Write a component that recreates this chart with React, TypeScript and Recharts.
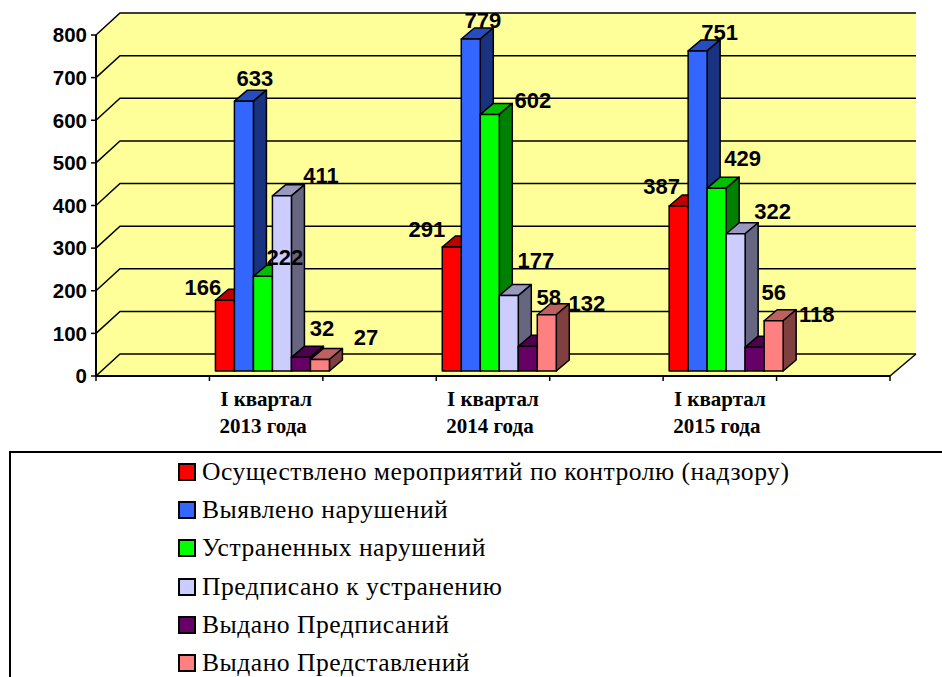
import { Bar, BarChart, CartesianGrid, LabelList, Legend, XAxis, YAxis } from 'recharts'

const categories = ['', 'I квартал\n2013 года', '', 'I квартал\n2014 года', '', 'I квартал\n2015 года', '']
const yTicks = [0, 100, 200, 300, 400, 500, 600, 700, 800]

const inspections = [null, 166, null, 291, null, 387, null]
const violationsFound = [null, 633, null, 779, null, 751, null]
const violationsFixed = [null, 222, null, 602, null, 429, null]
const toBeFixed = [null, 411, null, 177, null, 322, null]
const ordersIssued = [null, 32, null, 58, null, 56, null]
const submissionsIssued = [null, 27, null, 132, null, 118, null]

const seriesList = [
  { key: 'inspections', name: 'Осуществлено мероприятий по контролю (надзору)', values: inspections, fill: '#FF0000' },
  { key: 'violationsFound', name: 'Выявлено нарушений', values: violationsFound, fill: '#3366FF' },
  { key: 'violationsFixed', name: 'Устраненных нарушений', values: violationsFixed, fill: '#00FF00' },
  { key: 'toBeFixed', name: 'Предписано к устранению', values: toBeFixed, fill: '#CCCCFF' },
  { key: 'ordersIssued', name: 'Выдано Предписаний', values: ordersIssued, fill: '#660066' },
  { key: 'submissionsIssued', name: 'Выдано Представлений', values: submissionsIssued, fill: '#FF8080' },
]

const chartData = categories.map((category, i) => {
  const row: Record<string, string | number | null> = { category }
  seriesList.forEach((s) => {
    row[s.key] = s.values[i]
  })
  return row
})

// where excel left each data label, relative to the top of its bar (one pair per quarter)
const labelNudges: Record<string, [number, number][]> = {
  inspections: [[-23, -13], [-26, -17], [-18, -20]],
  violationsFound: [[10, -23], [11, -18], [21, -18]],
  violationsFixed: [[21, -19], [42, -14], [25, -30]],
  toBeFixed: [[38, -20], [26, -35], [36, -22]],
  ordersIssued: [[20, -29], [20, -49], [18, -55]],
  submissionsIssued: [[45, -22], [39, -11], [42, -6]],
}

const PLOT_TOP = 35
const PLOT_HEIGHT = 341
const WALL_DX = 24
const WALL_DY = 22
const YELLOW = '#FFFF99'

function shade(hex: string, k: number) {
  const n = parseInt(hex.slice(1), 16)
  const c = [(n >> 16) & 255, (n >> 8) & 255, n & 255].map((v) => Math.round(v * k))
  return `rgb(${c[0]},${c[1]},${c[2]})`
}

function wallShape(props: any) {
  const { x1: left, x2: right, y1: top } = props
  const bottom = top + PLOT_HEIGHT
  return (
    <g key="walls">
      <path
        d={`M${left},${top} L${left + WALL_DX},${top - WALL_DY} L${right + 26},${top - WALL_DY} L${right + 26},${bottom - WALL_DY} L${right},${bottom} L${left},${bottom} Z`}
        fill={YELLOW}
      />
      <path d={`M${right},${bottom} L${right + 26},${bottom - WALL_DY}`} stroke="#000" strokeWidth={1.5} fill="none" />
    </g>
  )
}

function gridLine(props: any) {
  const { x1, x2, y1 } = props
  return (
    <path
      key={y1}
      d={`M${x1},${y1} L${x1 + WALL_DX},${y1 - WALL_DY} L${x2 + 26},${y1 - WALL_DY}`}
      stroke="#000"
      strokeWidth={1.5}
      fill="none"
    />
  )
}

function Bar3D(props: any) {
  const { x, y, width, height, fill } = props
  if (!height) return null
  const dx = 13
  const dy = 11
  const fx = x + 6
  const fy = y - 5
  return (
    <g stroke="#000" strokeWidth={1.5} strokeLinejoin="round">
      <path
        d={`M${fx},${fy} L${fx + dx},${fy - dy} L${fx + width + dx},${fy - dy} L${fx + width},${fy} Z`}
        fill={shade(fill, 0.75)}
      />
      <path
        d={`M${fx + width},${fy} L${fx + width + dx},${fy - dy} L${fx + width + dx},${fy + height - dy} L${fx + width},${fy + height} Z`}
        fill={shade(fill, 0.5)}
      />
      <rect x={fx} y={fy} width={width} height={height} fill={fill} />
    </g>
  )
}

function CategoryTick(props: any) {
  const { x, y, payload, index } = props
  const step = 794 / categories.length
  const lines = String(payload.value).split('\n')
  const last = index === categories.length - 1
  return (
    <g>
      <line x1={x - step / 2} x2={x - step / 2} y1={y - 8} y2={y - 3} stroke="#000" strokeWidth={1.5} />
      {last && <line x1={x + step / 2} x2={x + step / 2} y1={y - 8} y2={y - 3} stroke="#000" strokeWidth={1.5} />}
      {lines.map((line, i) =>
        line ? (
          <text
            key={i}
            x={x - i * 3}
            y={y + 22 + i * 27}
            textAnchor="middle"
            fontFamily="'Liberation Serif'"
            fontWeight="bold"
            fontSize={21}
            fill="#000"
          >
            {line}
          </text>
        ) : null,
      )}
    </g>
  )
}

function valueLabel(seriesKey: string) {
  return (props: any) => {
    const { x, y, width, value, index } = props
    if (value == null) return null
    const nudge = labelNudges[seriesKey][index] ?? [0, -10]
    return (
      <text
        x={x + width / 2 + 7 + nudge[0]}
        y={y - 5 + nudge[1]}
        textAnchor="middle"
        dominantBaseline="central"
        fontFamily="'Liberation Sans'"
        fontWeight="bold"
        fontSize={22}
        fill="#000"
      >
        {value}
      </text>
    )
  }
}

function LegendBox(props: any) {
  const { payload } = props
  return (
    <div>
      {(payload ?? []).map((item: any) => (
        <div key={item.value} style={{ display: 'flex', alignItems: 'center', height: 38.2, paddingLeft: 167 }}>
          <span
            style={{
              width: 14,
              height: 14,
              background: item.color,
              border: '2px solid #000',
              marginRight: 6,
              flex: 'none',
            }}
          />
          <span
            style={{
              fontFamily: "'Liberation Serif'",
              fontSize: 25.6,
              letterSpacing: 0.5,
              color: '#000',
              whiteSpace: 'nowrap',
            }}
          >
            {item.value}
          </span>
        </div>
      ))}
    </div>
  )
}

export default function App() {
  return (
    <div style={{ position: 'absolute', left: 0, top: 0, width: 942, height: 677, overflow: 'hidden', background: '#fff' }}>
      <BarChart
        width={942}
        height={677}
        data={chartData}
        barCategoryGap={0}
        barGap={0}
        margin={{ top: PLOT_TOP, right: 52, bottom: 241, left: 0 }}
      >
        <CartesianGrid vertical={false} horizontal={wallShape} horizontalPoints={[PLOT_TOP]} />
        <CartesianGrid vertical={false} horizontal={gridLine} />
        <XAxis
          dataKey="category"
          height={60}
          interval={0}
          tick={<CategoryTick />}
          tickLine={false}
          axisLine={{ stroke: '#000', strokeWidth: 2 }}
        />
        <YAxis
          width={96}
          domain={[0, 800]}
          ticks={yTicks}
          interval={0}
          tickSize={5}
          tickMargin={4}
          tick={{ fontFamily: "'Liberation Sans'", fontWeight: 'bold', fontSize: 20.5, fill: '#000' }}
          tickLine={{ stroke: '#000', strokeWidth: 1.5 }}
          axisLine={{ stroke: '#000', strokeWidth: 2 }}
        />
        <Legend
          layout="vertical"
          align="center"
          verticalAlign="middle"
          itemSorter={null}
          content={<LegendBox />}
          wrapperStyle={{
            left: 9,
            top: 451,
            bottom: 'auto',
            right: 'auto',
            width: 960,
            height: 260,
            boxSizing: 'border-box',
            border: '2px solid #000',
          }}
        />
        {seriesList.map((s) => (
          <Bar key={s.key} dataKey={s.key} name={s.name} fill={s.fill} shape={<Bar3D />} isAnimationActive={false}>
            <LabelList dataKey={s.key} content={valueLabel(s.key)} />
          </Bar>
        ))}
      </BarChart>
    </div>
  )
}
